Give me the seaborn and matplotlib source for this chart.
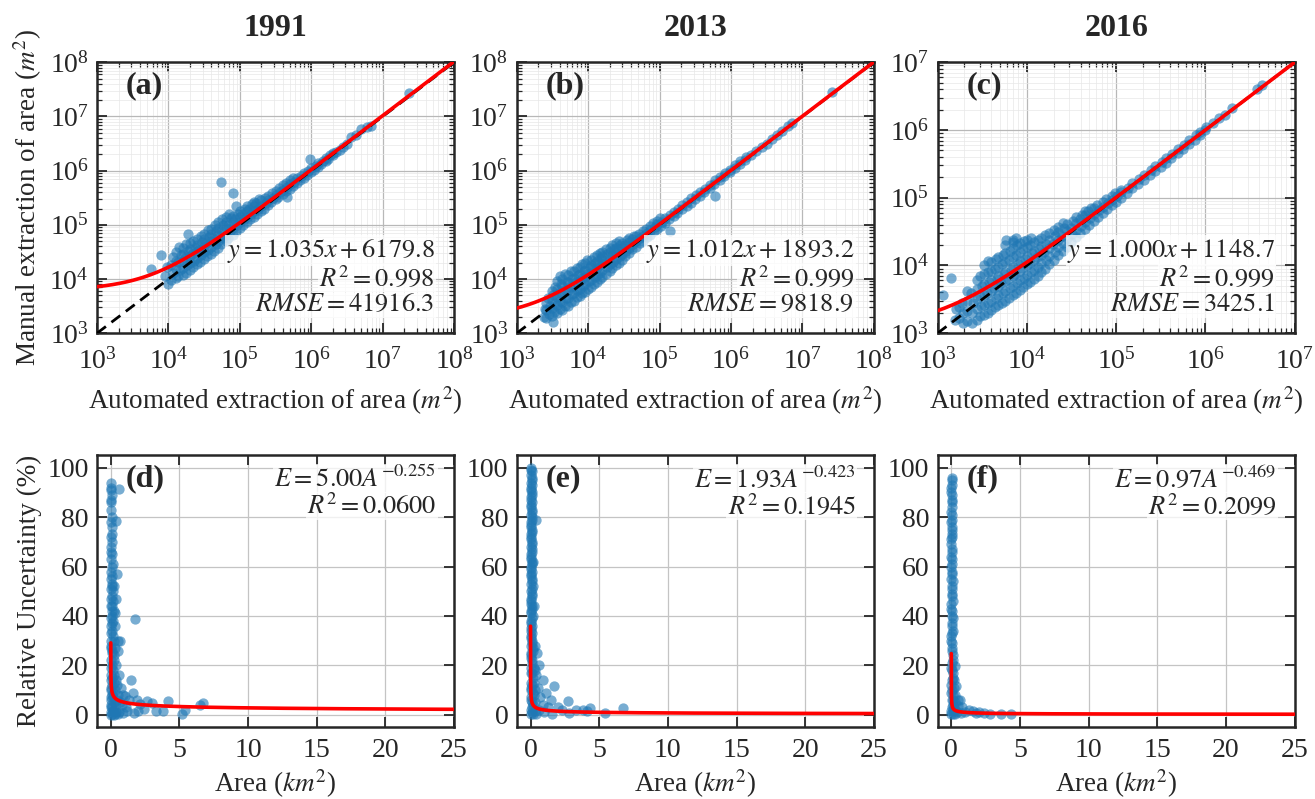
import numpy as np
import matplotlib
matplotlib.use("Agg")
import matplotlib.pyplot as plt
import matplotlib.ticker as mticker
import seaborn as sns

# ---------------- data ----------------
years = ["1991", "2013", "2016"]
panel_top = ["(a)", "(b)", "(c)"]
panel_bot = ["(d)", "(e)", "(f)"]

# linear fits (manual = k * automated + b)
fit_slope = [1.035, 1.012, 1.000]
fit_icpt = [6179.8, 1893.2, 1148.7]
fit_r2 = ["0.998", "0.999", "0.999"]
fit_rmse = ["41916.3", "9818.9", "3425.1"]
top_max_exp = [8, 8, 7]

# power-law fits E = c * A^p
pow_c = [5.00, 1.93, 0.97]
pow_p = [-0.255, -0.423, -0.469]
pow_r2 = ["0.0600", "0.1945", "0.2099"]

# scatter points: (log10 automated area, log10 manual area), m^2
pts_1991 = [
    (3.76, 4.18), (3.89, 4.44), (3.99, 3.91), (3.95, 4.05), (3.98, 4.22),
    (4.04, 3.98), (4.06, 4.11), (4.03, 4.26), (4.07, 4.40),
    (4.14, 4.05), (4.16, 4.16), (4.13, 4.31), (4.17, 4.45), (4.15, 4.60),
    (4.24, 4.12), (4.26, 4.25), (4.23, 4.38), (4.27, 4.52), (4.25, 4.64), (4.27, 4.84),
    (4.34, 4.22), (4.36, 4.34), (4.33, 4.46), (4.37, 4.58), (4.35, 4.70),
    (4.44, 4.32), (4.46, 4.44), (4.43, 4.56), (4.47, 4.68), (4.45, 4.80),
    (4.54, 4.42), (4.56, 4.54), (4.53, 4.66), (4.57, 4.78), (4.55, 4.90),
    (4.64, 4.52), (4.66, 4.64), (4.63, 4.76), (4.67, 4.88), (4.65, 5.00),
    (4.74, 4.65), (4.76, 4.76), (4.73, 4.88), (4.77, 5.00), (4.75, 5.10), (4.74, 5.79),
    (4.84, 4.76), (4.86, 4.88), (4.83, 5.00), (4.87, 5.12), (4.85, 5.20), (4.90, 5.58),
    (4.94, 4.88), (4.96, 5.00), (4.93, 5.10), (4.97, 5.20), (4.94, 5.35),
    (5.04, 5.00), (5.06, 5.10), (5.03, 5.20), (5.07, 5.30),
    (5.14, 5.10), (5.16, 5.20), (5.13, 5.30), (5.17, 5.38),
    (5.24, 5.20), (5.26, 5.30), (5.23, 5.40), (5.27, 5.47),
    (5.34, 5.30), (5.36, 5.40), (5.35, 5.50),
    (5.44, 5.42), (5.46, 5.50), (5.45, 5.58),
    (5.54, 5.52), (5.56, 5.60), (5.55, 5.68), (5.66, 5.52),
    (5.64, 5.62), (5.66, 5.70), (5.65, 5.78),
    (5.74, 5.72), (5.76, 5.80), (5.75, 5.86),
    (5.84, 5.82), (5.86, 5.90),
    (5.94, 5.92), (5.96, 6.00), (5.98, 6.22),
    (6.04, 6.02), (6.06, 6.08), (6.14, 6.12), (6.16, 6.18),
    (6.24, 6.22), (6.26, 6.28), (6.35, 6.34), (6.45, 6.44),
    (6.56, 6.62), (6.70, 6.77), (6.84, 6.83), (7.37, 7.43),
]
pts_1991_more = [
    (4.10, 4.02), (4.10, 4.18), (4.10, 4.33), (4.10, 4.50),
    (4.20, 4.08), (4.20, 4.20), (4.20, 4.34), (4.20, 4.47), (4.20, 4.58),
    (4.30, 4.17), (4.30, 4.30), (4.30, 4.42), (4.30, 4.55), (4.30, 4.66),
    (4.40, 4.27), (4.40, 4.39), (4.40, 4.51), (4.40, 4.63), (4.40, 4.74),
    (4.50, 4.37), (4.50, 4.49), (4.50, 4.61), (4.50, 4.73), (4.50, 4.84),
    (4.60, 4.47), (4.60, 4.59), (4.60, 4.71), (4.60, 4.83), (4.60, 4.93),
    (4.70, 4.58), (4.70, 4.70), (4.70, 4.82), (4.70, 4.94), (4.70, 5.05),
    (4.80, 4.70), (4.80, 4.82), (4.80, 4.94), (4.80, 5.06), (4.80, 5.15),
    (4.90, 4.82), (4.90, 4.94), (4.90, 5.05), (4.90, 5.16),
    (5.00, 4.94), (5.00, 5.05), (5.00, 5.15), (5.00, 5.25),
    (5.10, 5.05), (5.10, 5.15), (5.10, 5.25), (5.10, 5.34),
    (5.20, 5.15), (5.20, 5.25), (5.20, 5.35), (5.20, 5.43),
    (5.30, 5.25), (5.30, 5.35), (5.30, 5.45),
    (5.40, 5.36), (5.40, 5.46), (5.40, 5.54),
    (5.50, 5.47), (5.50, 5.56), (5.50, 5.63),
    (5.60, 5.57), (5.60, 5.65), (5.60, 5.73),
    (5.70, 5.67), (5.70, 5.76), (5.70, 5.83),
    (5.80, 5.77), (5.80, 5.86), (5.90, 5.87), (5.90, 5.95),
    (6.00, 5.97), (6.00, 6.05), (6.10, 6.07), (6.10, 6.14),
    (6.20, 6.17), (6.20, 6.24), (6.30, 6.28), (6.30, 6.33),
    (6.40, 6.39), (6.50, 6.50), (6.62, 6.66), (6.78, 6.80),
]
pts_2013 = [
    (3.38, 3.30), (3.39, 3.45),
    (3.45, 3.35), (3.46, 3.50), (3.44, 3.65), (3.51, 3.20),
    (3.52, 3.40), (3.53, 3.55), (3.51, 3.70), (3.54, 3.85),
    (3.60, 3.45), (3.61, 3.60), (3.59, 3.75), (3.62, 3.90), (3.60, 4.05),
    (3.68, 3.50), (3.69, 3.65), (3.67, 3.80), (3.70, 3.95), (3.68, 4.10),
    (3.76, 3.58), (3.77, 3.72), (3.75, 3.86), (3.78, 4.00), (3.76, 4.15),
    (3.84, 3.66), (3.85, 3.80), (3.83, 3.94), (3.86, 4.08), (3.84, 4.20),
    (3.92, 3.74), (3.93, 3.88), (3.91, 4.02), (3.94, 4.15), (3.92, 4.28),
    (4.00, 3.82), (4.01, 3.96), (3.99, 4.10), (4.02, 4.22), (3.98, 4.35),
    (4.08, 3.90), (4.09, 4.04), (4.07, 4.18), (4.10, 4.30), (4.08, 4.40),
    (4.16, 4.00), (4.17, 4.12), (4.15, 4.25), (4.18, 4.38), (4.16, 4.48),
    (4.25, 4.10), (4.26, 4.22), (4.24, 4.34), (4.27, 4.46), (4.25, 4.55),
    (4.34, 4.20), (4.35, 4.32), (4.33, 4.44), (4.36, 4.55), (4.34, 4.62),
    (4.43, 4.30), (4.44, 4.42), (4.42, 4.53), (4.45, 4.63), (4.43, 4.70),
    (4.52, 4.42), (4.53, 4.52), (4.51, 4.62), (4.54, 4.72),
    (4.62, 4.55), (4.63, 4.64), (4.61, 4.74), (4.64, 4.80),
    (4.72, 4.66), (4.73, 4.75), (4.71, 4.84),
    (4.82, 4.77), (4.83, 4.85), (4.81, 4.93),
    (4.92, 4.88), (4.93, 4.96), (4.91, 5.03),
    (5.02, 4.98), (5.03, 5.06), (5.01, 5.12),
    (5.14, 4.89), (5.13, 5.10), (5.15, 5.18),
    (5.25, 5.22), (5.26, 5.30), (5.38, 5.35), (5.39, 5.43),
    (5.50, 5.48), (5.51, 5.55), (5.62, 5.60), (5.63, 5.67),
    (5.77, 5.53), (5.76, 5.75), (5.78, 5.82),
    (5.90, 5.90), (5.91, 5.95), (6.05, 6.05), (6.06, 6.10),
    (6.20, 6.20), (6.21, 6.25), (6.35, 6.36), (6.50, 6.50),
    (6.65, 6.66), (6.80, 6.82), (6.85, 6.88), (7.42, 7.45),
]
pts_2013_more = [
    (3.41, 3.28), (3.41, 3.42), (3.41, 3.56),
    (3.49, 3.32), (3.49, 3.47), (3.49, 3.62), (3.49, 3.77),
    (3.56, 3.38), (3.56, 3.52), (3.56, 3.67), (3.56, 3.82), (3.56, 3.96),
    (3.64, 3.42), (3.64, 3.57), (3.64, 3.72), (3.64, 3.87), (3.64, 4.00),
    (3.72, 3.50), (3.72, 3.65), (3.72, 3.80), (3.72, 3.94), (3.72, 4.08),
    (3.80, 3.60), (3.80, 3.74), (3.80, 3.88), (3.80, 4.02), (3.80, 4.14),
    (3.88, 3.68), (3.88, 3.82), (3.88, 3.96), (3.88, 4.10), (3.88, 4.22),
    (3.96, 3.76), (3.96, 3.90), (3.96, 4.04), (3.96, 4.17), (3.96, 4.30),
    (4.04, 3.85), (4.04, 3.98), (4.04, 4.12), (4.04, 4.25), (4.04, 4.36),
    (4.12, 3.94), (4.12, 4.07), (4.12, 4.20), (4.12, 4.33), (4.12, 4.44),
    (4.20, 4.04), (4.20, 4.17), (4.20, 4.30), (4.20, 4.42), (4.20, 4.50),
    (4.30, 4.14), (4.30, 4.27), (4.30, 4.39), (4.30, 4.50), (4.30, 4.58),
    (4.39, 4.25), (4.39, 4.37), (4.39, 4.48), (4.39, 4.58), (4.39, 4.66),
    (4.48, 4.36), (4.48, 4.47), (4.48, 4.57), (4.48, 4.67),
    (4.57, 4.48), (4.57, 4.58), (4.57, 4.68), (4.57, 4.76),
    (4.67, 4.60), (4.67, 4.70), (4.67, 4.79),
    (4.77, 4.71), (4.77, 4.80), (4.77, 4.88),
    (4.87, 4.82), (4.87, 4.90), (4.87, 4.98),
    (4.97, 4.93), (4.97, 5.01), (4.97, 5.08),
    (5.08, 5.04), (5.08, 5.12), (5.20, 5.16), (5.20, 5.24),
    (5.32, 5.29), (5.32, 5.37), (5.44, 5.41), (5.44, 5.49),
    (5.56, 5.54), (5.56, 5.61), (5.70, 5.68), (5.70, 5.74),
    (5.84, 5.83), (5.84, 5.88), (5.98, 5.97), (5.98, 6.02),
    (6.12, 6.13), (6.12, 6.17), (6.28, 6.29), (6.43, 6.43),
    (6.58, 6.58), (6.72, 6.74),
]
pts_2016 = [
    (3.06, 3.56), (3.15, 3.81), (3.20, 3.20), (3.21, 3.35),
    (3.28, 3.15), (3.29, 3.30), (3.27, 3.45),
    (3.39, 3.15), (3.38, 3.30), (3.40, 3.45), (3.37, 3.60),
    (3.48, 3.25), (3.49, 3.40), (3.47, 3.55), (3.50, 3.70), (3.48, 3.85),
    (3.56, 3.30), (3.57, 3.45), (3.55, 3.60), (3.58, 3.75), (3.56, 3.90), (3.56, 4.06),
    (3.64, 3.38), (3.65, 3.52), (3.63, 3.66), (3.66, 3.80), (3.64, 3.95), (3.65, 4.10),
    (3.72, 3.45), (3.73, 3.60), (3.71, 3.74), (3.74, 3.88), (3.72, 4.02), (3.73, 4.15),
    (3.77, 4.37),
    (3.80, 3.52), (3.81, 3.66), (3.79, 3.80), (3.82, 3.94), (3.80, 4.08), (3.81, 4.22), (3.84, 4.35),
    (3.88, 3.60), (3.89, 3.74), (3.87, 3.88), (3.90, 4.02), (3.88, 4.16), (3.89, 4.30), (3.88, 4.40),
    (3.96, 3.68), (3.97, 3.82), (3.95, 3.96), (3.98, 4.10), (3.96, 4.24), (3.97, 4.36),
    (4.04, 3.75), (4.05, 3.90), (4.03, 4.04), (4.06, 4.18), (4.04, 4.30), (4.05, 4.40),
    (4.12, 3.85), (4.13, 3.98), (4.11, 4.12), (4.14, 4.25), (4.12, 4.38),
    (4.20, 3.95), (4.21, 4.08), (4.19, 4.20), (4.22, 4.32), (4.20, 4.45),
    (4.30, 4.08), (4.31, 4.20), (4.29, 4.32), (4.32, 4.44), (4.30, 4.52),
    (4.40, 4.22), (4.41, 4.33), (4.39, 4.44), (4.42, 4.55), (4.40, 4.62),
    (4.50, 4.35), (4.51, 4.46), (4.49, 4.56), (4.52, 4.66),
    (4.60, 4.48), (4.61, 4.58), (4.59, 4.68), (4.62, 4.75),
    (4.70, 4.60), (4.71, 4.70), (4.69, 4.80), (4.72, 4.85),
    (4.80, 4.72), (4.81, 4.82), (4.79, 4.90),
    (4.90, 4.83), (4.91, 4.92), (4.89, 4.98),
    (5.00, 4.94), (5.01, 5.02), (4.99, 5.07),
    (5.12, 5.07), (5.13, 5.15), (5.25, 5.20), (5.26, 5.28),
    (5.38, 5.33), (5.39, 5.41), (5.50, 5.46), (5.51, 5.53),
    (5.62, 5.58), (5.63, 5.65), (5.75, 5.72), (5.76, 5.78),
    (5.88, 5.86), (5.89, 5.92), (6.00, 6.00), (6.01, 6.04),
    (6.15, 6.18), (6.22, 6.22), (6.30, 6.33), (6.58, 6.60), (6.64, 6.66),
]
pts_2016_more = [
    (3.24, 3.22), (3.24, 3.38),
    (3.33, 3.18), (3.33, 3.33), (3.33, 3.48), (3.33, 3.62),
    (3.44, 3.20), (3.44, 3.35), (3.44, 3.50), (3.44, 3.65), (3.44, 3.78),
    (3.52, 3.27), (3.52, 3.42), (3.52, 3.57), (3.52, 3.72), (3.52, 3.87), (3.52, 4.00),
    (3.60, 3.34), (3.60, 3.48), (3.60, 3.63), (3.60, 3.78), (3.60, 3.92), (3.60, 4.05),
    (3.68, 3.41), (3.68, 3.56), (3.68, 3.70), (3.68, 3.84), (3.68, 3.98), (3.68, 4.12),
    (3.76, 3.48), (3.76, 3.63), (3.76, 3.77), (3.76, 3.91), (3.76, 4.05), (3.76, 4.18), (3.76, 4.30),
    (3.84, 3.56), (3.84, 3.70), (3.84, 3.84), (3.84, 3.98), (3.84, 4.12), (3.84, 4.26), (3.84, 4.38),
    (3.92, 3.64), (3.92, 3.78), (3.92, 3.92), (3.92, 4.06), (3.92, 4.20), (3.92, 4.33),
    (4.00, 3.72), (4.00, 3.86), (4.00, 4.00), (4.00, 4.14), (4.00, 4.27), (4.00, 4.38),
    (4.08, 3.80), (4.08, 3.94), (4.08, 4.08), (4.08, 4.21), (4.08, 4.34),
    (4.16, 3.90), (4.16, 4.03), (4.16, 4.16), (4.16, 4.29), (4.16, 4.41),
    (4.25, 4.02), (4.25, 4.14), (4.25, 4.26), (4.25, 4.38), (4.25, 4.48),
    (4.35, 4.15), (4.35, 4.27), (4.35, 4.38), (4.35, 4.50), (4.35, 4.57),
    (4.45, 4.28), (4.45, 4.40), (4.45, 4.51), (4.45, 4.61),
    (4.55, 4.42), (4.55, 4.52), (4.55, 4.62), (4.55, 4.71),
    (4.65, 4.54), (4.65, 4.64), (4.65, 4.74), (4.65, 4.80),
    (4.75, 4.66), (4.75, 4.76), (4.75, 4.85),
    (4.85, 4.78), (4.85, 4.87), (4.85, 4.94),
    (4.95, 4.89), (4.95, 4.97), (4.95, 5.03),
    (5.06, 5.00), (5.06, 5.08), (5.06, 5.12),
    (5.18, 5.14), (5.18, 5.22), (5.31, 5.26), (5.31, 5.34),
    (5.44, 5.40), (5.44, 5.47), (5.56, 5.52), (5.56, 5.59),
    (5.69, 5.66), (5.69, 5.72), (5.82, 5.80), (5.82, 5.85),
    (5.94, 5.93), (5.94, 5.97), (6.08, 6.10),
]

# relative uncertainty points: (area km^2, uncertainty %)
unc_1991 = [
    (0.02, 94), (0.05, 91), (0.00, 87), (0.03, 86), (0.06, 80), (0.02, 78), (0.10, 76),
    (0.04, 72), (0.08, 70), (0.00, 66), (0.05, 63), (0.10, 60), (0.02, 58), (0.07, 56),
    (0.12, 53), (0.03, 51), (0.08, 48), (0.15, 46), (0.00, 44), (0.06, 42), (0.10, 40),
    (0.18, 38), (0.03, 36), (0.08, 34), (0.14, 32), (0.00, 30), (0.05, 28), (0.10, 26),
    (0.20, 24), (0.02, 22), (0.07, 20), (0.15, 18), (0.00, 16), (0.05, 14), (0.12, 12),
    (0.02, 10), (0.08, 8), (0.18, 7), (0.00, 6), (0.05, 4), (0.12, 3), (0.20, 2),
    (0.02, 1), (0.10, 0.5), (0.30, 0.3),
    (0.60, 91.5), (0.36, 78.6), (0.43, 57), (0.40, 47), (0.30, 41), (0.50, 30),
    (0.68, 30), (0.50, 26), (0.35, 20), (0.60, 16), (0.45, 12), (0.72, 10.8), (0.90, 8),
    (1.00, 7.4), (1.30, 6), (0.80, 4), (1.10, 3), (1.50, 14.2), (1.60, 9), (1.80, 38.9),
    (1.90, 6), (2.10, 4.5), (2.40, 2.5), (2.65, 5.4), (3.00, 4.7), (3.30, 1.5), (1.20, 1.5),
    (0.60, 1), (0.90, 0.8), (1.70, 0.8), (2.00, 1.5), (3.80, 1.4), (4.20, 5.4), (5.20, 0.4),
    (5.40, 2), (6.50, 4), (6.75, 4.7),
]
unc_1991_more = [
    (0.00, 92), (0.08, 89), (0.04, 83), (0.10, 73), (0.00, 68), (0.06, 65), (0.13, 61),
    (0.00, 55), (0.09, 52), (0.17, 50), (0.04, 47), (0.12, 44), (0.20, 42), (0.00, 39),
    (0.10, 37), (0.05, 33), (0.20, 30), (0.00, 27), (0.12, 25), (0.25, 22), (0.05, 19),
    (0.20, 16), (0.10, 15), (0.25, 13), (0.00, 11), (0.15, 9), (0.30, 10), (0.05, 7),
    (0.25, 5), (0.00, 3), (0.15, 1.5), (0.35, 4), (0.40, 1), (0.00, 0), (0.20, 0),
    (0.50, 0.5), (0.28, 36), (0.22, 52), (0.30, 27), (0.38, 14), (0.55, 8), (0.45, 6),
    (0.70, 5),
]
unc_2013 = [
    (0.05, 100), (0.10, 98.5), (0.00, 97), (0.08, 95), (0.12, 93), (0.03, 91), (0.10, 89),
    (0.06, 87), (0.00, 85), (0.12, 83), (0.05, 81), (0.09, 79), (0.02, 77), (0.11, 75),
    (0.05, 73), (0.00, 71), (0.08, 69), (0.12, 67), (0.03, 65), (0.07, 63), (0.10, 61),
    (0.00, 59), (0.05, 57), (0.12, 55), (0.02, 53), (0.08, 51), (0.10, 49), (0.00, 47),
    (0.06, 45), (0.12, 43), (0.03, 41), (0.09, 39), (0.00, 37), (0.06, 35), (0.14, 33),
    (0.02, 31), (0.08, 29), (0.16, 27), (0.00, 25), (0.06, 23), (0.14, 21), (0.03, 19),
    (0.10, 17), (0.20, 15), (0.00, 13), (0.07, 11), (0.16, 9), (0.02, 7), (0.10, 5),
    (0.20, 4), (0.00, 2), (0.08, 1), (0.18, 0.3),
    (0.40, 79), (0.20, 62), (0.25, 44), (0.30, 28), (0.65, 20.3), (0.50, 25), (0.40, 16),
    (0.90, 14), (0.55, 11), (1.10, 8.8), (0.70, 7), (1.74, 11.5), (1.50, 6), (0.90, 4),
    (1.30, 3), (0.60, 2), (1.00, 1), (2.00, 3), (2.30, 2), (2.70, 5.4), (3.30, 2),
    (3.80, 2), (4.30, 2.7), (4.10, 1.5), (5.40, 0.7), (6.70, 2.7), (2.80, 0.8), (1.60, 0.5),
]
unc_2013_more = [
    (0.00, 99), (0.14, 96), (0.04, 94), (0.00, 92), (0.13, 90), (0.04, 88), (0.14, 86),
    (0.02, 84), (0.08, 82), (0.14, 80), (0.00, 78), (0.06, 76), (0.14, 74), (0.02, 72),
    (0.10, 70), (0.04, 68), (0.14, 66), (0.00, 64), (0.10, 62), (0.04, 60), (0.14, 58),
    (0.00, 56), (0.08, 54), (0.15, 52), (0.04, 50), (0.14, 48), (0.00, 46), (0.10, 44),
    (0.04, 42), (0.16, 40), (0.02, 38), (0.12, 36), (0.05, 34), (0.00, 32), (0.12, 30),
    (0.04, 28), (0.20, 26), (0.00, 24), (0.10, 22), (0.22, 19), (0.05, 17), (0.25, 13),
    (0.12, 12), (0.00, 10), (0.25, 8), (0.05, 6), (0.30, 5), (0.12, 3), (0.30, 1.5),
    (0.00, 0.5), (0.40, 0.3), (0.35, 10), (0.30, 18),
]
unc_2016 = [
    (0.02, 96), (0.05, 93), (0.00, 90), (0.06, 87), (0.02, 84), (0.05, 81), (0.00, 78),
    (0.06, 75), (0.03, 72), (0.00, 69), (0.07, 66), (0.03, 63), (0.00, 60), (0.06, 57),
    (0.10, 54), (0.02, 51), (0.07, 48), (0.00, 45), (0.05, 42), (0.10, 39), (0.02, 36),
    (0.08, 33), (0.00, 30), (0.05, 27), (0.12, 24), (0.02, 21), (0.08, 18), (0.15, 15),
    (0.00, 12), (0.06, 10), (0.15, 8), (0.02, 6), (0.10, 4), (0.20, 3), (0.00, 1.5),
    (0.10, 0.5),
    (0.25, 19.6), (0.20, 14), (0.36, 11.5), (0.30, 8), (0.45, 6), (0.60, 6), (0.50, 3.5),
    (0.80, 3), (1.30, 2), (1.00, 1.2), (1.60, 1.5), (2.05, 1.3), (1.80, 0.6), (2.40, 0.8),
    (2.80, 0.4), (3.60, 0.4), (4.35, 0.4), (0.70, 0.8),
]
unc_2016_more = [
    (0.04, 95), (0.00, 92), (0.07, 89), (0.03, 86), (0.00, 82), (0.06, 79), (0.02, 76),
    (0.07, 73), (0.00, 71), (0.04, 67), (0.00, 64), (0.08, 61), (0.03, 58), (0.00, 55),
    (0.07, 52), (0.03, 49), (0.10, 46), (0.00, 43), (0.07, 40), (0.03, 37), (0.10, 34),
    (0.00, 32), (0.08, 29), (0.02, 26), (0.10, 22), (0.00, 19), (0.12, 17), (0.05, 14),
    (0.20, 11), (0.00, 9), (0.12, 6), (0.25, 5), (0.05, 3), (0.30, 2), (0.15, 1.5),
    (0.00, 0.3), (0.40, 1), (0.25, 0.3),
]

top_points = [pts_1991 + pts_1991_more, pts_2013 + pts_2013_more,
              pts_2016 + pts_2016_more]
bot_points = [unc_1991 + unc_1991_more, unc_2013 + unc_2013_more,
              unc_2016 + unc_2016_more]

# ---------------- style ----------------
sns.set_theme(style="ticks")
plt.rcParams.update({
    "font.family": "serif",
    "font.serif": ["Liberation Serif", "DejaVu Serif"],
    "mathtext.fontset": "stix",
    "axes.linewidth": 1.8,
    "xtick.direction": "in",
    "ytick.direction": "in",
    "xtick.top": True,
    "ytick.right": True,
})

PT_COLOR = "#1f77b4"
TICK_FS = 20
LABEL_FS = 19.5
fig = plt.figure(figsize=(13.15, 7.99), dpi=100)

lefts = [0.0738, 0.393, 0.713]
width = 0.2715
top_axes = [fig.add_axes([l, 0.583, width, 0.339]) for l in lefts]
bot_axes = [fig.add_axes([l, 0.090, width, 0.340]) for l in lefts]

txt_box = dict(facecolor="white", edgecolor="none", alpha=0.75, pad=1.0)

for i, ax in enumerate(top_axes):
    arr = np.array(top_points[i])
    auto_a = 10 ** arr[:, 0]
    man_a = 10 ** arr[:, 1]
    hi = 10.0 ** top_max_exp[i]
    ax.set_xscale("log")
    ax.set_yscale("log")
    ax.set_xlim(1e3, hi)
    ax.set_ylim(1e3, hi)
    for axis in (ax.xaxis, ax.yaxis):
        axis.set_major_locator(mticker.LogLocator(base=10, numticks=15))
        axis.set_minor_locator(mticker.LogLocator(base=10, subs=np.arange(2, 10),
                                                  numticks=15))
        axis.set_minor_formatter(mticker.NullFormatter())
    ax.grid(True, which="major", color="#b8b8b8", lw=0.9, zorder=0)
    ax.grid(True, which="minor", color="#e8e8e8", lw=0.5, zorder=0)
    ax.set_axisbelow(True)
    sns.scatterplot(x=auto_a, y=man_a, ax=ax, color=PT_COLOR, s=55, alpha=0.6,
                    linewidth=0, zorder=2)
    line_x = np.logspace(3, top_max_exp[i], 300)
    sns.lineplot(x=[1e3, hi], y=[1e3, hi], ax=ax, color="black", lw=2,
                 linestyle=(0, (4, 2.5)), zorder=3)
    sns.lineplot(x=line_x, y=fit_slope[i] * line_x + fit_icpt[i], ax=ax,
                 color="red", lw=2.6, zorder=4, sort=False, estimator=None)
    ax.tick_params(which="major", length=7, width=1.3, labelsize=TICK_FS, pad=6)
    ax.tick_params(axis="x", which="major", pad=11)
    ax.tick_params(which="minor", length=3.5, width=0.9)
    ax.set_title(years[i], fontsize=23, fontweight="bold", pad=19)
    ax.set_xlabel("Automated extraction of area ($m^2$)", fontsize=LABEL_FS,
                  labelpad=7)
    if i == 0:
        ax.set_ylabel("Manual extraction of area ($m^2$)", fontsize=LABEL_FS)
    ax.text(0.08, 0.915, panel_top[i], transform=ax.transAxes, fontsize=23,
            fontweight="bold", va="center", ha="left")
    ax.text(0.945, 0.305, r"$y=%.3fx+%.1f$" % (fit_slope[i], fit_icpt[i]),
            transform=ax.transAxes, fontsize=19, ha="right", va="center",
            bbox=txt_box, zorder=5)
    ax.text(0.945, 0.203, r"$R^2=%s$" % fit_r2[i], transform=ax.transAxes,
            fontsize=19, ha="right", va="center", bbox=txt_box, zorder=5)
    ax.text(0.945, 0.103, r"$RMSE=%s$" % fit_rmse[i], transform=ax.transAxes,
            fontsize=19, ha="right", va="center", bbox=txt_box, zorder=5)

for i, ax in enumerate(bot_axes):
    arr = np.array(bot_points[i])
    ax.set_xlim(-1, 25)
    ax.set_ylim(-5, 105)
    ax.grid(True, which="major", color="#c4c4c4", lw=0.9, zorder=0)
    ax.set_axisbelow(True)
    sns.scatterplot(x=arr[:, 0], y=arr[:, 1], ax=ax, color=PT_COLOR, s=55,
                    alpha=0.6, linewidth=0, zorder=2)
    curve_a = np.logspace(-3, np.log10(25), 400)
    sns.lineplot(x=curve_a, y=pow_c[i] * curve_a ** pow_p[i], ax=ax, color="red",
                 lw=2.6, zorder=4, sort=False, estimator=None)
    ax.set_xticks([0, 5, 10, 15, 20, 25])
    ax.set_yticks([0, 20, 40, 60, 80, 100])
    ax.tick_params(which="major", length=7, width=1.3, labelsize=TICK_FS, pad=6)
    ax.tick_params(axis="x", which="major", pad=8)
    ax.set_xlabel("Area ($km^2$)", fontsize=LABEL_FS, labelpad=3)
    if i == 0:
        ax.set_ylabel("Relative Uncertainty (%)", fontsize=LABEL_FS)
    ax.text(0.08, 0.915, panel_bot[i], transform=ax.transAxes, fontsize=23,
            fontweight="bold", va="center", ha="left")
    ax.text(0.95, 0.915, r"$E=%.2fA^{%.3f}$" % (pow_c[i], pow_p[i]),
            transform=ax.transAxes, fontsize=19, ha="right", va="center",
            bbox=txt_box, zorder=5)
    ax.text(0.95, 0.815, r"$R^2=%s$" % pow_r2[i], transform=ax.transAxes,
            fontsize=19, ha="right", va="center", bbox=txt_box, zorder=5)

fig.savefig("out.png", dpi=100)
